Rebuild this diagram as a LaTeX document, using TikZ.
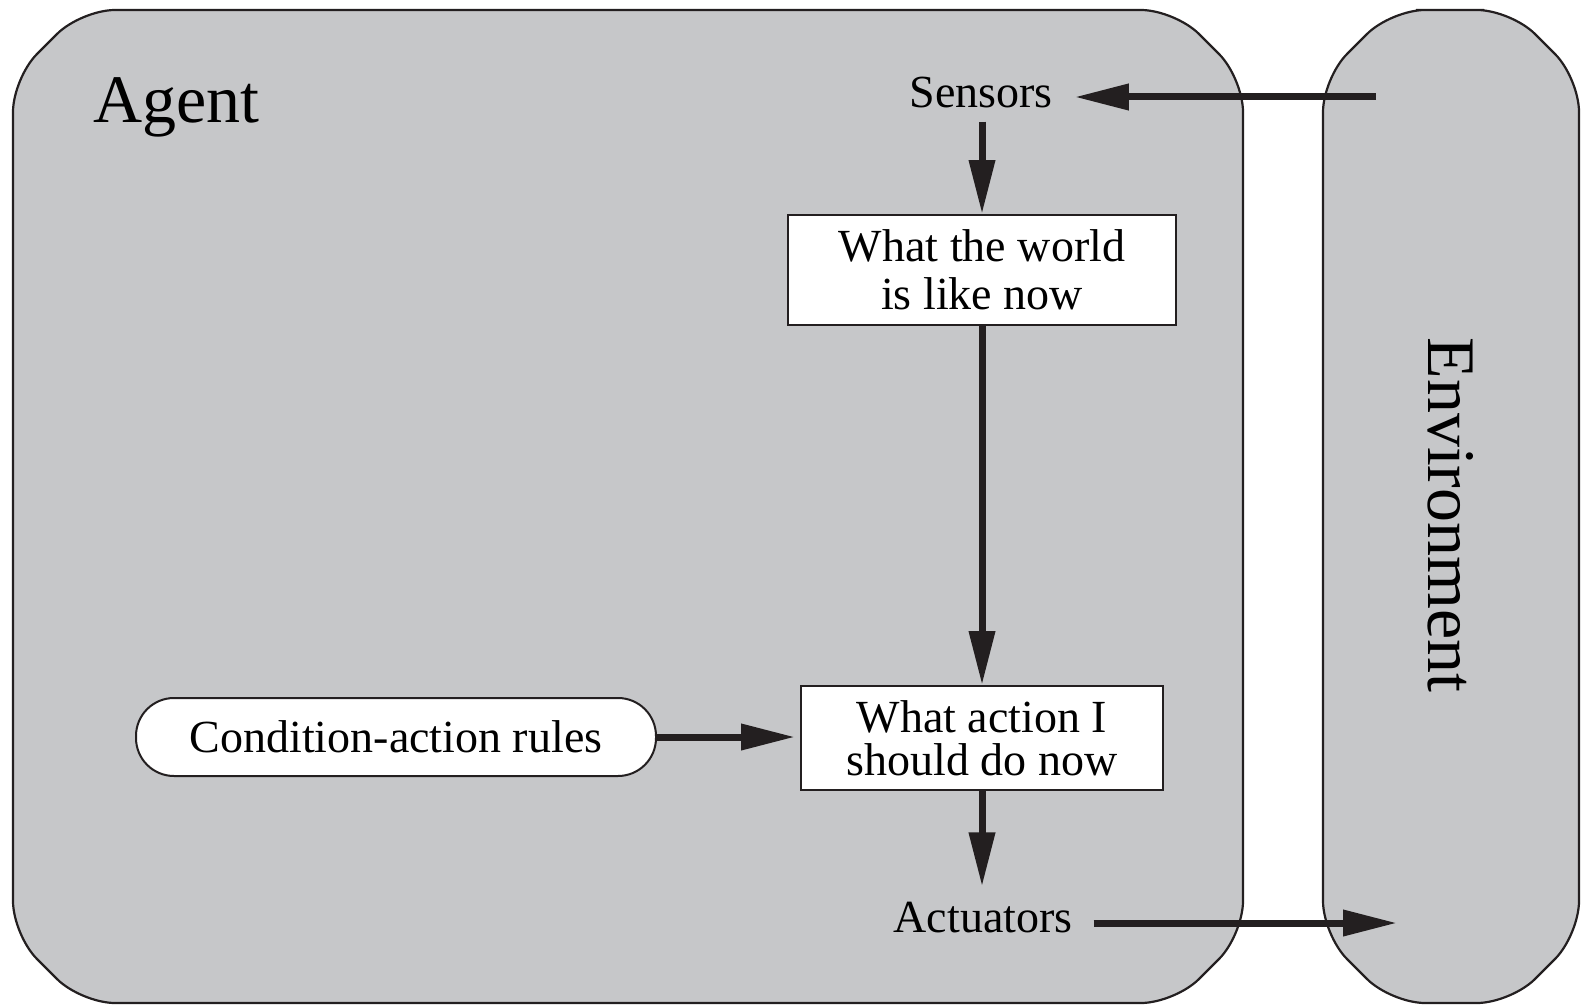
\documentclass[tikz,border=0pt]{standalone}
\usepackage{fontspec}
\setmainfont{Liberation Serif}
\usetikzlibrary{arrows.meta}
\definecolor{panel}{RGB}{198,199,201}
\definecolor{ink}{RGB}{35,31,32}
\begin{document}
\begin{tikzpicture}[x=1pt,y=-1pt,
  panelshape/.style={fill=panel, draw=ink, line width=2.2pt, rounded corners=34pt},
  box/.style={draw=ink, fill=white, line width=2pt, inner sep=0pt, align=center,
              font=\fontsize{46}{48}\selectfont},
  rulebox/.style={draw=ink, fill=white, line width=2pt, inner sep=0pt,
              rounded corners=38pt, font=\fontsize{46}{48}\selectfont},
  lbl/.style={inner sep=0pt, font=\fontsize{46}{48}\selectfont},
  biglbl/.style={inner sep=0pt, font=\fontsize{68}{70}\selectfont},
  arr/.style={draw=ink, line width=7pt, -{Triangle[length=54pt,width=25pt]}}]
\useasboundingbox (0,0) rectangle (1581,1006);

% agent and environment panels (chamfered, softly rounded)
\draw[panelshape] (600,10) -- (1175,10) -- (1243,78) -- (1243,935) -- (1175,1003)
  -- (81,1003) -- (13,935) -- (13,78) -- (81,10) -- cycle;
\draw[panelshape] (1450,10) -- (1511,10) -- (1579,78) -- (1579,935) -- (1511,1003)
  -- (1391,1003) -- (1323,935) -- (1323,78) -- (1391,10) -- cycle;

% labels
\node[biglbl, anchor=base west] (agent) at (93,123) {Agent};
\node[biglbl, rotate=-90] (env) at (1451,515) {Environment};
\node[lbl, anchor=base] (sensors) at (981,108) {Sensors};
\node[lbl, anchor=base] (actuators) at (983,932) {Actuators};

% processing boxes
\node[box, minimum width=388pt, minimum height=110pt] (world) at (982,270)
  {What the world\\is like now};
\node[box, minimum width=362pt, minimum height=104pt,
      font=\fontsize{46}{43}\selectfont] (action) at (982,738)
  {What action I\\should do now};
\node[rulebox, minimum width=520pt, minimum height=78pt] (rules) at (396,737)
  {Condition-action rules};

% percept and action links with the environment
\coordinate (percept) at (1376,97);
\coordinate (effect) at (1397,923);

% connectors
\draw[arr, shorten >=22pt] (percept) -- (percept -| sensors.east);
\draw[arr, shorten <=13pt] (world.north |- sensors.south) -- (world.north);
\draw[arr] (world.south) -- (action.north);
\draw[arr, shorten >=5pt] (rules.east) -- (rules.east -| action.west);
\draw[arr, shorten >=15pt] (action.south) -- (action.south |- actuators.north);
\draw[arr, shorten <=21pt] (effect -| actuators.east) -- (effect);
\end{tikzpicture}
\end{document}
